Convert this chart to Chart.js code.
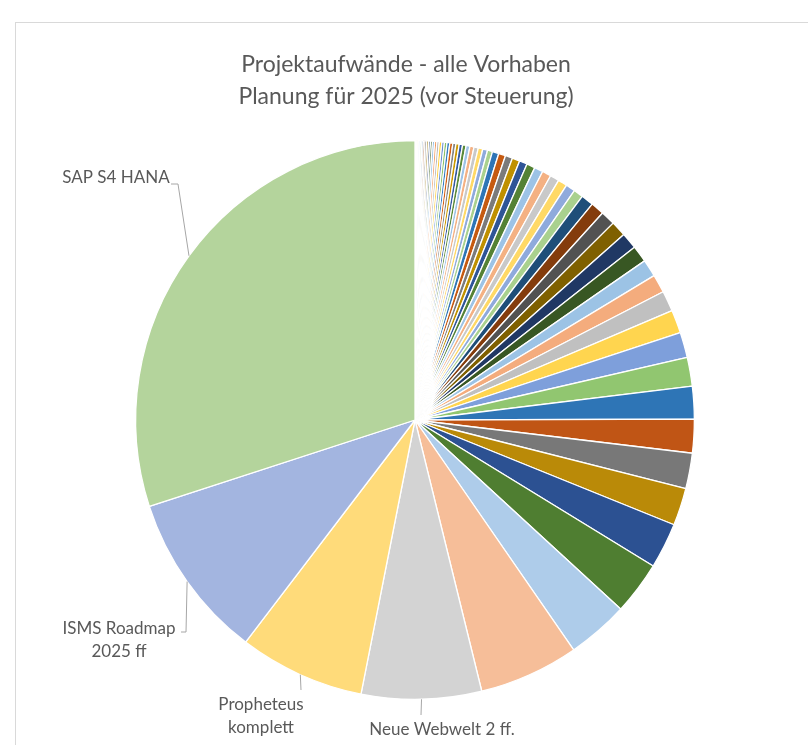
<!DOCTYPE html>
<html lang="de">
<head>
  <meta charset="UTF-8">
  <title>Projektaufwände 2025</title>
  <script src="https://cdn.jsdelivr.net/npm/chart.js"></script>
  <style>
    html, body { margin: 0; padding: 0; background: #fff; overflow: hidden; }
    .frame { position: absolute; left: 15px; top: 22px; width: 800px; height: 760px; border: 1px solid #d9d9d9; }
    #chart { position: absolute; left: 0; top: 0; }
  </style>
</head>
<body>
  <div class="frame"></div>
  <canvas id="chart" width="808" height="745"></canvas>

  <script>
    // Titel
    const titel = ['Projektaufwände - alle Vorhaben', 'Planung für 2025 (vor Steuerung)'];

    // Vorhaben, aufsteigend sortiert (nur die 4 grossen sind im Bild beschriftet)
    const kleineVorhaben = Array.from({ length: 62 }, (_, i) => 'Vorhaben ' + (i + 1));
    const grosseVorhaben = ['Neue Webwelt 2 ff.', 'Propheteus komplett', 'ISMS Roadmap 2025 ff', 'SAP S4 HANA'];
    const kategorien = kleineVorhaben.concat(grosseVorhaben);

    // Aufwand (relative Anteile, aus dem Bild geschaetzt)
    const aufwand = [
      0.16, 0.19, 0.22, 0.25, 0.28, 0.30,
      0.32, 0.34, 0.36, 0.38, 0.39, 0.41,
      0.44, 0.47, 0.50, 0.52, 0.53, 0.54,
      0.58, 0.62, 0.65, 0.68, 0.70, 0.74,
      0.80, 0.85, 0.90, 0.95, 1.00, 1.05,
      1.35, 1.45, 1.50, 1.60, 1.65, 1.75,
      1.80, 1.85, 1.90, 1.90, 1.95, 2.00,
      2.6, 2.8, 3.0, 3.2, 3.4, 3.5,
      3.6, 3.8, 4.3, 4.8, 5.3, 6.0,
      6.8, 7.0, 7.4, 7.8, 9.5, 11.1,
      12.8, 20.8, 25.0, 26.2, 34.7, 108.1
    ];

    // Office-Farben, in Sechsergruppen wie bei Excel
    const farben = [
      '#5B9BD5', '#ED7D31', '#A5A5A5', '#FFC000', '#4472C4', '#70AD47',
      '#255E91', '#9E480E', '#636363', '#997300', '#264478', '#43682B',
      '#7CAFDD', '#F1975A', '#B7B7B7', '#FFCD33', '#698ED0', '#8CC168',
      '#327DC2', '#D26012', '#848484', '#CC9A00', '#335AA1', '#5A8A39',
      '#9DC3E6', '#F4B183', '#C9C9C9', '#FFD966', '#8FAADC', '#A9D18E',
      '#2E75B6', '#C55A11', '#7B7B7B', '#BF9000', '#2F5597', '#548235',
      '#9DC3E6', '#F4B183', '#C9C9C9', '#FFD966', '#8FAADC', '#A9D18E',
      '#1F4E79', '#843C0C', '#525252', '#7F6000', '#203864', '#385723',
      '#9CC3E5', '#F4AC7D', '#C0C0C0', '#FFD54F', '#7E9FDB', '#91C670',
      '#2E75B6', '#C05515', '#787878', '#BA8A08', '#2C5192', '#4F7E31',
      '#AECCEA', '#F6BE99', '#D3D3D3', '#FFDB7A', '#A3B5E0', '#B4D49C'
    ];

    // Beschriftungen mit Fuehrungslinie (Textposition + Knickpunkte)
    const beschriftungen = [
      { name: 'SAP S4 HANA', zeilen: ['SAP S4 HANA'], x: 116, y: 178, linie: [[178, 184], [171, 184]] },
      { name: 'ISMS Roadmap 2025 ff', zeilen: ['ISMS Roadmap', '2025 ff'], x: 119, y: 629, linie: [[186, 632], [181, 632]] },
      { name: 'Propheteus komplett', zeilen: ['Propheteus', 'komplett'], x: 261, y: 705, linie: [[301, 690]] },
      { name: 'Neue Webwelt 2 ff.', zeilen: ['Neue Webwelt 2 ff.'], x: 442, y: 730, linie: [[421, 715]] }
    ];

    const textPlugin = {
      id: 'textPlugin',
      afterDatasetsDraw(chart) {
        const ctx = chart.ctx;
        const arcs = chart.getDatasetMeta(0).data;
        ctx.save();
        ctx.fillStyle = '#595959';
        ctx.textAlign = 'center';
        ctx.textBaseline = 'middle';

        // Titel
        ctx.font = '23px Lato, "Open Sans", sans-serif';
        ctx.fillText(titel[0], 406, 65);
        ctx.fillText(titel[1], 406, 97);

        // Beschriftungen
        ctx.strokeStyle = '#a6a6a6';
        ctx.lineWidth = 1;
        ctx.font = '17px Lato, "Open Sans", sans-serif';
        beschriftungen.forEach(b => {
          const arc = arcs[kategorien.indexOf(b.name)];
          const p = arc.getProps(['x', 'y', 'startAngle', 'endAngle', 'outerRadius'], true);
          const mitte = (p.startAngle + p.endAngle) / 2;
          ctx.beginPath();
          ctx.moveTo(p.x + Math.cos(mitte) * p.outerRadius, p.y + Math.sin(mitte) * p.outerRadius);
          b.linie.forEach(pt => ctx.lineTo(pt[0], pt[1]));
          ctx.stroke();
          b.zeilen.forEach((t, k) => ctx.fillText(t, b.x, b.y + k * 23));
        });
        ctx.restore();
      }
    };

    new Chart(document.getElementById('chart'), {
      type: 'pie',
      data: {
        labels: kategorien,
        datasets: [{
          data: aufwand,
          backgroundColor: farben,
          borderColor: '#ffffff',
          borderWidth: 1.3
        }]
      },
      options: {
        responsive: false,
        animation: false,
        layout: { padding: { left: 135, right: 113, top: 140, bottom: 45 } },
        plugins: {
          legend: { display: false },
          tooltip: { enabled: false }
        }
      },
      plugins: [textPlugin]
    });
  </script>
</body>
</html>
